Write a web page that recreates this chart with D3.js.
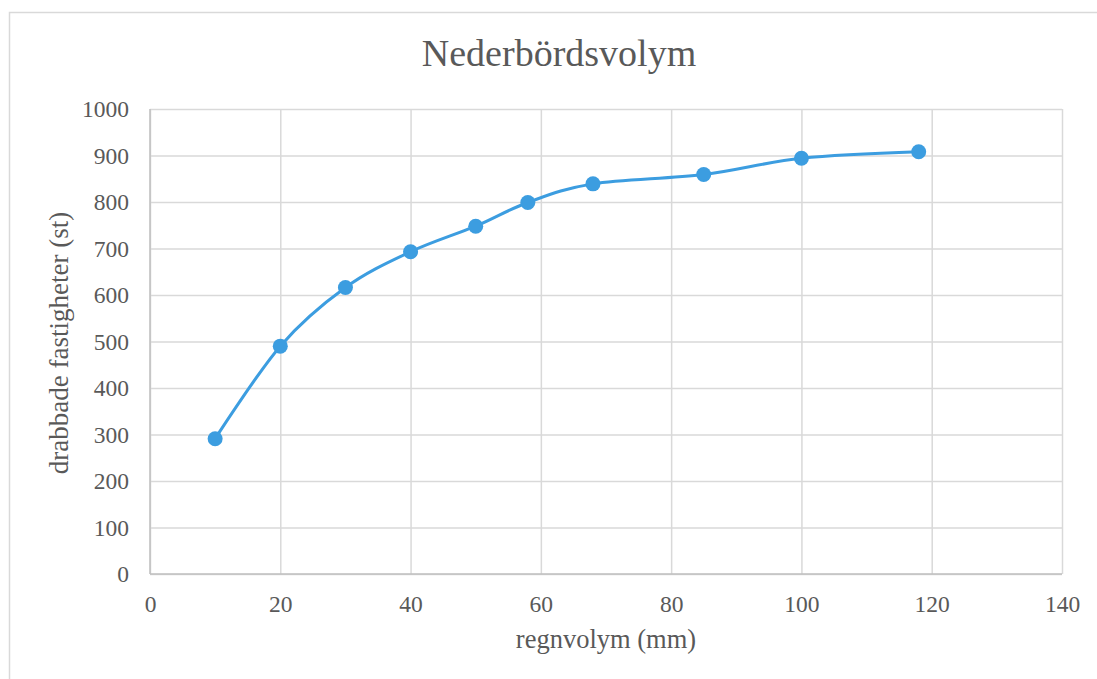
<!DOCTYPE html>
<html lang="sv">
<head>
<meta charset="utf-8">
<title>Nederbördsvolym</title>
<script src="https://d3js.org/d3.v7.min.js"></script>
<style type="text/css">
  body { margin: 0; background: #fff; overflow: hidden; }
  text { font-family: "Liberation Serif", "Times New Roman", serif; fill: #595959; }
  .grid line { stroke: #d9d9d9; stroke-width: 1.5px; }
  .grid path { display: none; }
  .axis path, .axis line { display: none; }
  .linestyle { fill: none; stroke: #3c9de0; stroke-width: 3px; }
</style>
</head>
<body>
<script type="text/javascript">

// data
var regnvolym = [10, 20, 30, 40, 50, 58, 68, 85, 100, 118];
var fastigheter = [291, 490, 616, 693, 748, 799, 839, 859, 894, 908];
var xTicks = [0, 20, 40, 60, 80, 100, 120, 140];
var yTicks = [0, 100, 200, 300, 400, 500, 600, 700, 800, 900, 1000];

var w = 1097;
var h = 679;
var margin = {top: 109, right: 35, bottom: 105, left: 150};
var innerWidth = 1062 - margin.left;
var innerHeight = 574 - margin.top;

var svg = d3.select("body")
            .append("svg")
            .attr("width", w)
            .attr("height", h);

// chart frame (only left and top edges are inside the picture)
svg.append("path")
   .attr("d", `M9.5,${h} V12.5 H${w}`)
   .attr("fill", "none")
   .attr("stroke", "#d9d9d9")
   .attr("stroke-width", 1.5);

var xScale = d3.scaleLinear().domain([0, 140]).range([0, innerWidth]);
var yScale = d3.scaleLinear().domain([0, 1000]).range([innerHeight, 0]);

var g = svg.append("g")
           .attr("transform", `translate(${margin.left}, ${margin.top})`);

// gridlines
g.append("g")
 .attr("class", "grid")
 .call(d3.axisLeft(yScale).tickValues(yTicks).tickSize(-innerWidth).tickFormat(""));

g.append("g")
 .attr("class", "grid")
 .attr("transform", `translate(0, ${innerHeight})`)
 .call(d3.axisBottom(xScale).tickValues(xTicks).tickSize(-innerHeight).tickFormat(""));

// axis lines
g.append("line")
 .attr("x1", 0).attr("x2", 0)
 .attr("y1", 0).attr("y2", innerHeight)
 .attr("stroke", "#bfbfbf").attr("stroke-width", 1.5);

g.append("line")
 .attr("x1", 0).attr("x2", innerWidth)
 .attr("y1", innerHeight).attr("y2", innerHeight)
 .attr("stroke", "#bfbfbf").attr("stroke-width", 1.5);

// tick labels
var yAxis = g.append("g")
 .attr("class", "axis")
 .call(d3.axisLeft(yScale).tickValues(yTicks).tickSize(0).tickPadding(21).tickFormat(d3.format("d")));
yAxis.selectAll("text")
     .attr("font-size", "23.5px")
     .attr("dy", "0.33em");

var xAxis = g.append("g")
 .attr("class", "axis")
 .attr("transform", `translate(0, ${innerHeight})`)
 .call(d3.axisBottom(xScale).tickValues(xTicks).tickSize(0).tickPadding(21).tickFormat(d3.format("d")));
xAxis.selectAll("text")
     .attr("font-size", "23.5px");

// line
var points = regnvolym.map((d, i) => [d, fastigheter[i]]);

var lineGen = d3.line()
                .x(d => xScale(d[0]))
                .y(d => yScale(d[1]))
                .curve(d3.curveCardinal.tension(0));

g.append("path")
 .datum(points)
 .attr("class", "linestyle")
 .attr("d", lineGen);

g.selectAll("circle")
 .data(points)
 .enter()
 .append("circle")
 .attr("cx", d => xScale(d[0]))
 .attr("cy", d => yScale(d[1]))
 .attr("r", 7.5)
 .attr("fill", "#3c9de0");

// titles
svg.append("text")
   .attr("x", 559)
   .attr("y", 66)
   .attr("text-anchor", "middle")
   .attr("font-size", "38px")
   .text("Nederbördsvolym");

svg.append("text")
   .attr("x", 606)
   .attr("y", 648)
   .attr("text-anchor", "middle")
   .attr("font-size", "26.5px")
   .text("regnvolym (mm)");

svg.append("text")
   .attr("transform", "translate(68, 343) rotate(-90)")
   .attr("text-anchor", "middle")
   .attr("font-size", "27px")
   .text("drabbade fastigheter (st)");

</script>
</body>
</html>
